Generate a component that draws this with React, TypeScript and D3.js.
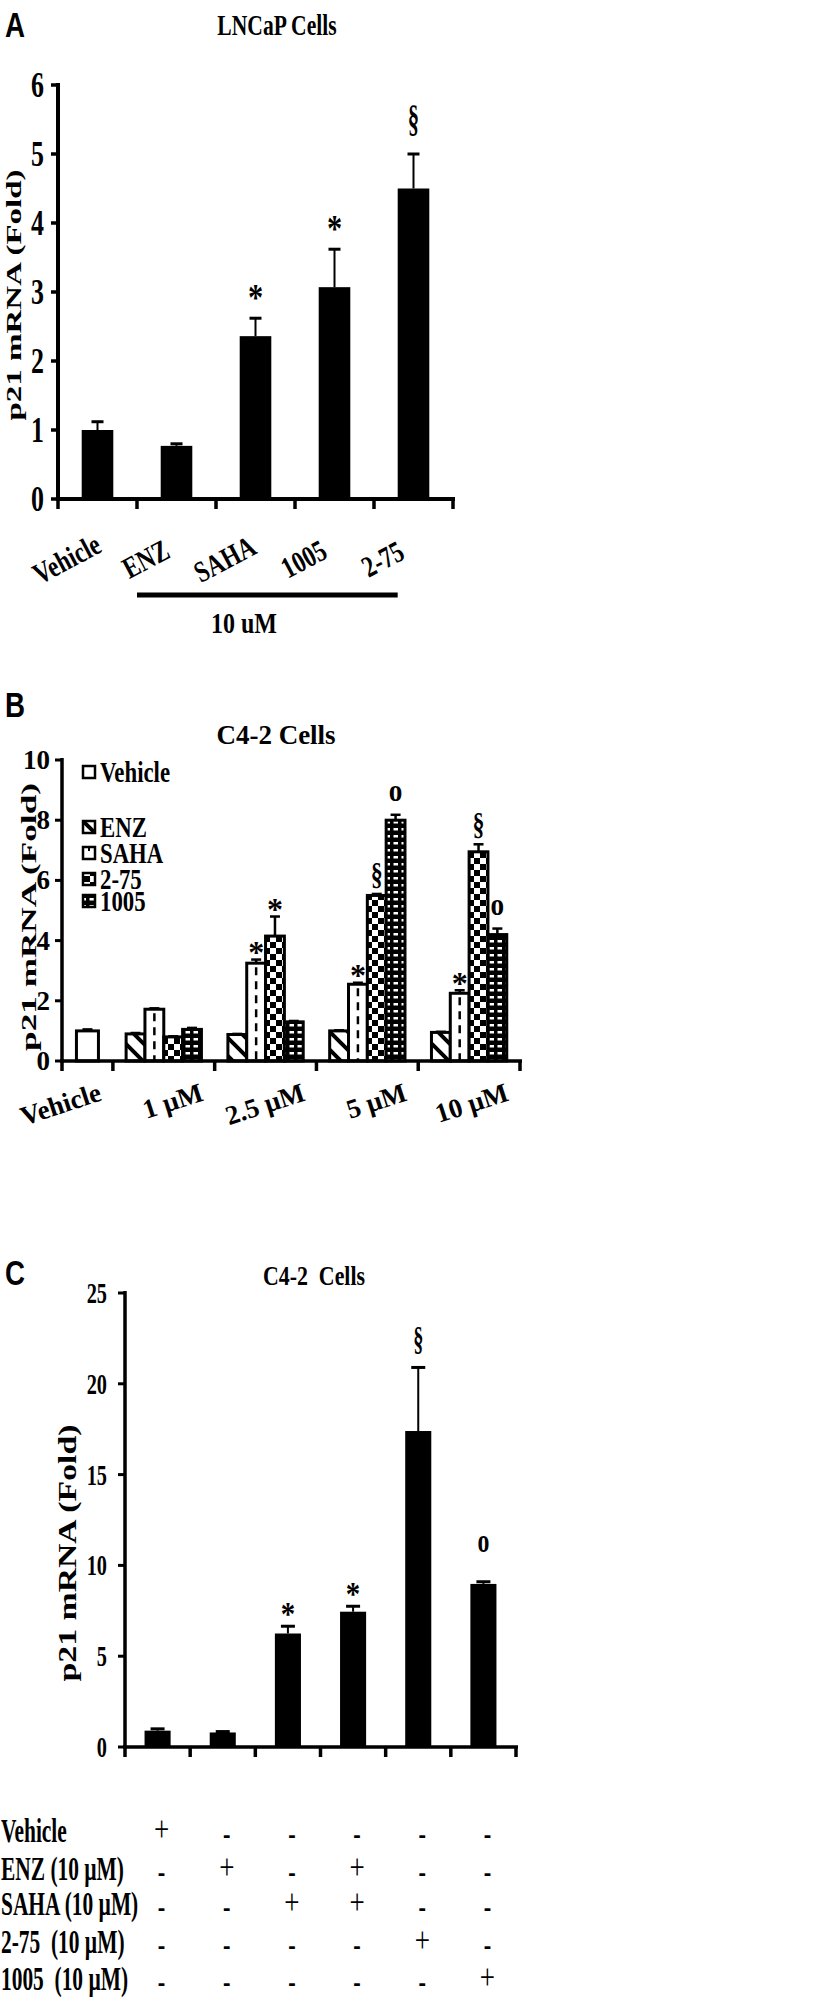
import React from "react";
import * as d3 from "d3";

const SERIF = "'Liberation Serif', 'Times New Roman', serif";
const SANS = "'Liberation Sans', Arial, sans-serif";

// ---- Panel A: LNCaP cells, 10 uM ----
const aCategories = ["Vehicle", "ENZ", "SAHA", "1005", "2-75"];
const aValues = [1.0, 0.77, 2.36, 3.07, 4.5];
const aErrors = [0.12, 0.03, 0.26, 0.55, 0.5];
const aMarks = ["", "", "*", "*", "§"];
const aTicks = [0, 1, 2, 3, 4, 5, 6];

// ---- Panel B: C4-2 cells, dose response ----
const bGroups = ["Vehicle", "1 µM", "2.5 µM", "5 µM", "10 µM"];
const bSeries = ["ENZ", "SAHA", "2-75", "1005"];
const bVehicleValue = 1.0;
const bVehicleError = 0.05;
const bEnz = [0.9, 0.88, 1.0, 0.95];
const bSaha = [1.72, 3.25, 2.55, 2.25];
const b275 = [0.8, 4.15, 5.5, 6.95];
const b1005 = [1.05, 1.3, 8.0, 4.2];
const bEnzErr = [0.03, 0.02, 0.02, 0.02];
const bSahaErr = [0.03, 0.12, 0.05, 0.1];
const b275Err = [0.02, 0.65, 0.05, 0.25];
const b1005Err = [0.05, 0.03, 0.18, 0.2];
const bEnzMarks = ["", "", "", ""];
const bSahaMarks = ["", "*", "*", "*"];
const b275Marks = ["", "*", "§", "§"];
const b1005Marks = ["", "", "o", "o"];
const bTicks = [0, 2, 4, 6, 8, 10];

// ---- Panel C: C4-2 cells, combinations ----
const cCategories = ["Vehicle", "ENZ", "SAHA", "ENZ+SAHA", "2-75", "1005"];
const cValues = [0.9, 0.8, 6.25, 7.45, 17.4, 8.98];
const cErrors = [0.1, 0.05, 0.4, 0.3, 3.5, 0.12];
const cMarks = ["", "", "*", "*", "§", "o"];
const cTicks = [0, 5, 10, 15, 20, 25];
const cRowLabels = ["Vehicle", "ENZ (10 µM)", "SAHA (10 µM)", "2-75  (10 µM)", "1005  (10 µM)"];
const cRowSigns = [
  ["+", "-", "-", "-", "-", "-"],
  ["-", "+", "-", "+", "-", "-"],
  ["-", "-", "+", "+", "-", "-"],
  ["-", "-", "-", "-", "+", "-"],
  ["-", "-", "-", "-", "-", "+"],
];

function Txt({ x, y, size, sx = 1, rot = 0, anchor = "start", weight = "bold", family = SERIF, children }: any) {
  return (
    <text
      transform={`translate(${x},${y}) rotate(${rot}) scale(${sx},1)`}
      fontSize={size}
      fontFamily={family}
      fontWeight={weight}
      textAnchor={anchor}
      fill="#000"
      style={{ whiteSpace: "pre" }}
    >
      {children}
    </text>
  );
}

// significance mark above an error bar; gap = space between glyph bottom and bar top
function Mark({ sym, cx, top, size, sx, gaps }: any) {
  if (!sym) return null;
  let y = top;
  if (sym === "*") y = top - gaps.star + 0.27 * size;
  else if (sym === "§") y = top - gaps.sect - 0.15 * size;
  else y = top - gaps.o;
  return <Txt x={cx} y={y} size={size} sx={sx[sym]} anchor="middle">{sym}</Txt>;
}

function ErrorBar({ cx, y0, y1, w = 6, sw = 2, cw = 3 }: any) {
  return (
    <g stroke="#000">
      <line x1={cx} x2={cx} y1={y0} y2={y1} strokeWidth={sw} />
      <line x1={cx - w} x2={cx + w} y1={y1} y2={y1} strokeWidth={cw} />
    </g>
  );
}

export default function App() {
  // ---------- A ----------
  const xA = d3.scaleBand<string>().domain(aCategories).range([58, 453]).paddingInner(0.6).paddingOuter(0.3);
  const yA = d3.scaleLinear().domain([0, 6]).range([499, 85]);
  const stepA = xA.step();
  const aBounds = d3.range(aCategories.length + 1).map((i) => xA.range()[0] + i * stepA);

  // ---------- B ----------
  const xB = d3.scaleLinear().domain([0, 9]).range([62, 520]);
  const yB = d3.scaleLinear().domain([0, 10]).range([1061, 760]);
  const bSpans = bGroups.map((_, i) => (i === 0 ? [0, 1] : [2 * i - 1, 2 * i + 1]));
  const bBounds = [0, 1, 3, 5, 7, 9];
  const bVals = [bEnz, bSaha, b275, b1005];
  const bErrs = [bEnzErr, bSahaErr, b275Err, b1005Err];
  const bMks = [bEnzMarks, bSahaMarks, b275Marks, b1005Marks];
  const bFills = ["url(#pDiag)", "#fff", "url(#pCheck)", "url(#pDots)"];
  const legendY = [772, 827, 853, 879, 901];

  // ---------- C ----------
  const xC = d3.scaleBand<string>().domain(cCategories).range([125, 516]).paddingInner(0.6).paddingOuter(0.3);
  const yC = d3.scaleLinear().domain([0, 25]).range([1747, 1293]);
  const stepC = xC.step();
  const cBounds = d3.range(cCategories.length + 1).map((i) => xC.range()[0] + i * stepC);
  const rowBase = [1842, 1880, 1915, 1953, 1990];

  return (
    <svg
      width={820}
      height={2001}
      viewBox="0 0 820 2001"
      style={{ position: "absolute", left: 0, top: 0, background: "#fff", display: "block" }}
    >
      <defs>
        <pattern id="pDiag" patternUnits="userSpaceOnUse" width={18} height={18}>
          <rect width={18} height={18} fill="#fff" />
          <path d="M0,0L18,18M-9,9L9,27M9,-9L27,9" stroke="#000" strokeWidth={4} />
        </pattern>
        <pattern id="pCheck" patternUnits="userSpaceOnUse" width={12} height={12}>
          <rect width={12} height={12} fill="#fff" />
          <rect width={6} height={6} fill="#000" />
          <rect x={6} y={6} width={6} height={6} fill="#000" />
        </pattern>
        <pattern id="pDots" patternUnits="userSpaceOnUse" width={8} height={7}>
          <rect width={8} height={7} fill="#000" />
          <rect x={1.5} y={2} width={4.5} height={2.5} fill="#fff" />
        </pattern>
      </defs>
      <rect width={820} height={2001} fill="#fff" />

      {/* ================= Panel A ================= */}
      <Txt x={5} y={37} size={36} sx={0.77} family={SANS}>A</Txt>
      <Txt x={277} y={35} size={30} sx={0.72} anchor="middle">LNCaP Cells</Txt>
      <Txt x={21} y={295} size={22} sx={1.5} rot={-90} anchor="middle">p21 mRNA (Fold)</Txt>
      <line x1={58} x2={58} y1={yA(6) - 2} y2={yA(0) + 2} stroke="#000" strokeWidth={4} />
      {aTicks.map((t) => (
        <g key={`at${t}`}>
          <line x1={51} x2={58} y1={yA(t)} y2={yA(t)} stroke="#000" strokeWidth={3.5} />
          <Txt x={44} y={yA(t) + 12} size={36} sx={0.72} anchor="end">{t}</Txt>
        </g>
      ))}
      {aCategories.map((c, i) => {
        const cx = xA(c)! + xA.bandwidth() / 2;
        return (
          <g key={`ab${c}`}>
            <rect x={xA(c)} y={yA(aValues[i])} width={xA.bandwidth()} height={yA(0) - yA(aValues[i])} fill="#000" />
            <ErrorBar cx={cx} y0={yA(aValues[i])} y1={yA(aValues[i] + aErrors[i])} w={6} sw={2} cw={3} />
            <Mark sym={aMarks[i]} cx={cx} top={yA(aValues[i] + aErrors[i])} size={38}
              sx={{ "*": 0.8, "§": 0.6, o: 0.7 }} gaps={{ star: 18, sect: 17, o: 14 }} />
            <Txt x={cx - 26} y={568} size={30} sx={0.78} rot={-28} anchor="middle">{c}</Txt>
          </g>
        );
      })}
      <line x1={56} x2={455} y1={yA(0)} y2={yA(0)} stroke="#000" strokeWidth={4} />
      {aBounds.map((b, i) => (
        <line key={`ax${i}`} x1={b} x2={b} y1={yA(0)} y2={yA(0) + 10} stroke="#000" strokeWidth={3.5} />
      ))}
      <line x1={aBounds[1]} x2={xA("2-75")!} y1={595} y2={595} stroke="#000" strokeWidth={5} />
      <Txt x={244} y={633} size={30} sx={0.8} anchor="middle">10 uM</Txt>

      {/* ================= Panel B ================= */}
      <Txt x={5} y={717} size={36} sx={0.77} family={SANS}>B</Txt>
      <Txt x={276} y={744} size={27} anchor="middle">C4-2 Cells</Txt>
      <Txt x={36} y={917} size={22} sx={1.6} rot={-90} anchor="middle">p21 mRNA (Fold)</Txt>
      <line x1={62} x2={62} y1={yB(10) - 2} y2={yB(0) + 2} stroke="#000" strokeWidth={3.5} />
      {bTicks.map((t) => (
        <g key={`bt${t}`}>
          <line x1={55} x2={62} y1={yB(t)} y2={yB(t)} stroke="#000" strokeWidth={3} />
          <Txt x={50} y={yB(t) + 9} size={27} anchor="end">{t}</Txt>
        </g>
      ))}
      {/* vehicle bar */}
      <rect x={xB(0.5) - 11} y={yB(bVehicleValue)} width={22} height={yB(0) - yB(bVehicleValue)}
        fill="#fff" stroke="#000" strokeWidth={3} />
      <ErrorBar cx={xB(0.5)} y0={yB(bVehicleValue)} y1={yB(bVehicleValue + bVehicleError)} w={5} sw={2.5} cw={2.5} />
      {bGroups.slice(1).map((g, gi) => {
        const [d0, d1] = bSpans[gi + 1];
        const x0 = xB(d0), x1 = xB(d1), w = x1 - x0;
        const inner = d3.scaleBand<string>().domain(bSeries).range([x0 + 0.13 * w, x1 - 0.13 * w]);
        return (
          <g key={`bg${g}`}>
            {bSeries.map((s, si) => {
              const v = bVals[si][gi];
              const e = bErrs[si][gi];
              const bx = inner(s)!;
              const bw = inner.bandwidth();
              const cx = bx + bw / 2;
              return (
                <g key={`bb${g}${s}`}>
                  <rect x={bx} y={yB(v)} width={bw} height={yB(0) - yB(v)} fill={bFills[si]} stroke="#000" strokeWidth={3} />
                  {s === "SAHA" && (
                    <line x1={cx} x2={cx} y1={yB(v) + 4} y2={yB(0)} stroke="#000" strokeWidth={2.5} strokeDasharray="8,6" />
                  )}
                  <ErrorBar cx={cx} y0={yB(v)} y1={yB(v + e)} w={5} sw={2.5} cw={2.5} />
                  <Mark sym={bMks[si][gi]} cx={cx} top={yB(v + e)} size={32}
                    sx={{ "*": 1, "§": 0.75, o: 0.85 }} gaps={{ star: 5, sect: 4, o: 14 }} />
                </g>
              );
            })}
          </g>
        );
      })}
      <line x1={60} x2={522} y1={yB(0)} y2={yB(0)} stroke="#000" strokeWidth={3.5} />
      {bBounds.map((b) => (
        <line key={`bx${b}`} x1={xB(b)} x2={xB(b)} y1={yB(0)} y2={yB(0) + 10} stroke="#000" strokeWidth={3.5} />
      ))}
      {bGroups.map((g, i) => (
        <Txt key={`bl${g}`} x={xB(bSpans[i][1]) - 10} y={1100} size={27} rot={-18} anchor="end">{g}</Txt>
      ))}
      {/* legend */}
      {["Vehicle", ...bSeries].map((s, i) => (
        <g key={`lg${s}`}>
          <rect x={83} y={legendY[i] - 6} width={12} height={12}
            fill={i === 0 ? "#fff" : bFills[i - 1]} stroke="#000" strokeWidth={2.5} />
          {s === "SAHA" && <line x1={89} x2={89} y1={legendY[i] - 6} y2={legendY[i] - 2} stroke="#000" strokeWidth={2} />}
          <Txt x={100} y={legendY[i] + 10} size={30} sx={0.76}>{s}</Txt>
        </g>
      ))}

      {/* ================= Panel C ================= */}
      <Txt x={5} y={1285} size={36} sx={0.77} family={SANS}>C</Txt>
      <Txt x={314} y={1285} size={27} sx={0.81} anchor="middle">C4-2  Cells</Txt>
      <Txt x={76} y={1553} size={25} sx={1.35} rot={-90} anchor="middle">p21 mRNA (Fold)</Txt>
      <line x1={125} x2={125} y1={yC(25) - 2} y2={yC(0) + 2} stroke="#000" strokeWidth={3.5} />
      {cTicks.map((t) => (
        <g key={`ct${t}`}>
          <line x1={118} x2={125} y1={yC(t)} y2={yC(t)} stroke="#000" strokeWidth={3} />
          <Txt x={107} y={yC(t) + 10} size={29} sx={0.7} anchor="end">{t}</Txt>
        </g>
      ))}
      {cCategories.map((c, i) => {
        const cx = xC(c)! + xC.bandwidth() / 2;
        return (
          <g key={`cb${c}`}>
            <rect x={xC(c)} y={yC(cValues[i])} width={xC.bandwidth()} height={yC(0) - yC(cValues[i])} fill="#000" />
            <ErrorBar cx={cx} y0={yC(cValues[i])} y1={yC(cValues[i] + cErrors[i])} w={7} sw={2} cw={3} />
            <Mark sym={cMarks[i]} cx={cx} top={yC(cValues[i] + cErrors[i])} size={34}
              sx={{ "*": 0.85, "§": 0.6, o: 0.7 }} gaps={{ star: 10, sect: 12, o: 30 }} />
          </g>
        );
      })}
      <line x1={123} x2={518} y1={yC(0)} y2={yC(0)} stroke="#000" strokeWidth={3.5} />
      {cBounds.map((b, i) => (
        <line key={`cx${i}`} x1={b} x2={b} y1={yC(0)} y2={yC(0) + 10} stroke="#000" strokeWidth={3.5} />
      ))}
      {/* treatment table */}
      {cRowLabels.map((r, ri) => (
        <g key={`row${ri}`}>
          <Txt x={1} y={rowBase[ri]} size={34} sx={0.63}>{r}</Txt>
          {cRowSigns[ri].map((s, ci) => {
            const cx = xC(cCategories[ci])! + xC.bandwidth() / 2 + 4;
            const mid = rowBase[ri] - 10;
            return s === "+" ? (
              <Txt key={`s${ci}`} x={cx} y={mid + 9} size={36} sx={0.75} weight="normal" anchor="middle">+</Txt>
            ) : (
              <Txt key={`s${ci}`} x={cx} y={mid + 12} size={32} sx={0.7} anchor="middle">-</Txt>
            );
          })}
        </g>
      ))}
    </svg>
  );
}
